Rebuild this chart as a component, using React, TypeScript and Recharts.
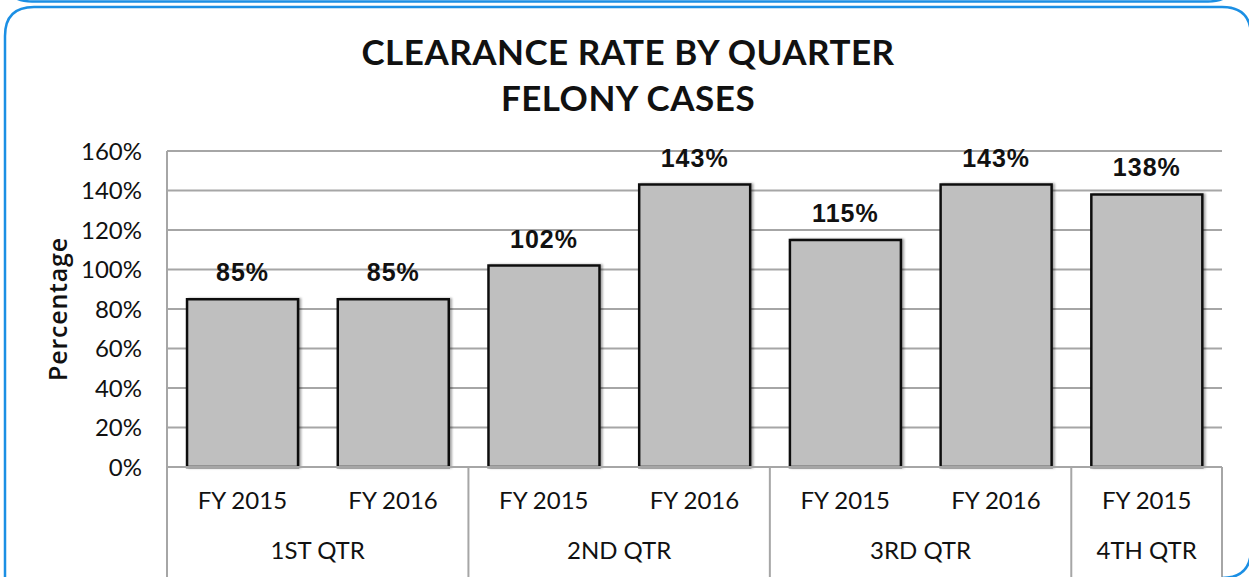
import React from 'react';
import {
  BarChart,
  Bar,
  XAxis,
  YAxis,
  CartesianGrid,
  LabelList,
} from 'recharts';

const quarters = ['1ST QTR', '1ST QTR', '2ND QTR', '2ND QTR', '3RD QTR', '3RD QTR', '4TH QTR'];
const fiscalYears = ['FY 2015', 'FY 2016', 'FY 2015', 'FY 2016', 'FY 2015', 'FY 2016', 'FY 2015'];
const clearanceRates = [85, 85, 102, 143, 115, 143, 138];
const yTicks = [0, 20, 40, 60, 80, 100, 120, 140, 160];

const W = 1249;
const H = 577;
const MARGIN = { top: 151, right: 27, bottom: 0, left: 0 };
const Y_AXIS_W = 167;
const X_AXIS_H = 110;
const PLOT_W = W - MARGIN.left - MARGIN.right - Y_AXIS_W;

const rows = quarters.map((q, i) => ({
  key: `${q}|${fiscalYears[i]}`,
  quarter: q,
  fy: fiscalYears[i],
  rate: clearanceRates[i],
}));

const GRID = '#a6a6a6';
const BLUE = '#1b8fe4';
const TICK_FONT = 'Lato, "Open Sans", sans-serif';

// two-level category axis: fiscal year on top, quarter group below with separators
function GroupedTick(props: any) {
  const { x, y, index } = props;
  const band = PLOT_W / rows.length;
  const q = quarters[index];
  const isFirst = index === 0 || quarters[index - 1] !== q;
  const isLast = index === quarters.length - 1;
  const count = quarters.filter((v) => v === q).length;
  const groupCenter = x - band / 2 + (band * count) / 2;
  return (
    <g>
      <text
        x={x}
        y={y + 42}
        textAnchor="middle"
        fontSize={24}
        fontFamily={TICK_FONT}
        fill="#111"
      >
        {fiscalYears[index]}
      </text>
      {isFirst && (
        <>
          <text
            x={groupCenter}
            y={y + 92}
            textAnchor="middle"
            fontSize={24}
            fontFamily={TICK_FONT}
            fill="#111"
          >
            {q}
          </text>
          <line x1={x - band / 2} x2={x - band / 2} y1={y} y2={y + X_AXIS_H} stroke={GRID} strokeWidth={2} />
        </>
      )}
      {isLast && (
        <line x1={x + band / 2} x2={x + band / 2} y1={y} y2={y + X_AXIS_H} stroke={GRID} strokeWidth={2} />
      )}
    </g>
  );
}

function YLabel() {
  return (
    <text
      x={57}
      y={309}
      transform="rotate(-90 57 309)"
      textAnchor="middle"
      dominantBaseline="central"
      fontSize={25}
      fontWeight={600}
      letterSpacing={0.8}
      fontFamily='"Open Sans", sans-serif'
      fill="#111"
    >
      Percentage
    </text>
  );
}

export default function App() {
  return (
    <div style={{ position: 'fixed', left: 0, top: 0, width: W, height: H, background: '#fff', overflow: 'hidden' }}>
      <div
        style={{
          position: 'absolute',
          left: 0,
          width: 1256,
          top: 28,
          textAlign: 'center',
          fontFamily: 'Lato, "Open Sans", sans-serif',
          fontWeight: 700,
          fontSize: 35,
          lineHeight: '46px',
          color: '#111',
          letterSpacing: 0.5,
        }}
      >
        CLEARANCE RATE BY QUARTER
        <br />
        FELONY CASES
      </div>
      <div style={{ position: 'absolute', left: 0, top: 0 }}>
        <BarChart width={W} height={H} data={rows} margin={MARGIN} barCategoryGap="13.3%">
          <defs>
            <filter id="barShadow" x="-10%" y="-10%" width="130%" height="130%">
              <feDropShadow dx="2" dy="0" stdDeviation="1.2" floodColor="#000" floodOpacity="0.35" />
            </filter>
          </defs>
          <CartesianGrid horizontal vertical={false} stroke={GRID} strokeWidth={2} />
          <XAxis
            dataKey="key"
            height={X_AXIS_H}
            tickSize={0}
            tickMargin={0}
            tickLine={false}
            axisLine={{ stroke: GRID, strokeWidth: 2 }}
            interval={0}
            tick={<GroupedTick />}
          />
          <YAxis
            width={Y_AXIS_W}
            domain={[0, 160]}
            ticks={yTicks}
            interval={0}
            tickSize={0}
            tickMargin={25}
            tickLine={false}
            axisLine={{ stroke: GRID, strokeWidth: 2 }}
            tickFormatter={(v: number) => `${v}%`}
            tick={{ fontSize: 24, fontFamily: TICK_FONT, fill: '#111' }}
            label={<YLabel />}
          />
          <Bar
            dataKey="rate"
            fill="#bfbfbf"
            stroke="#111"
            strokeWidth={2.5}
            style={{ filter: 'url(#barShadow)' }}
            isAnimationActive={false}
          >
            <LabelList
              dataKey="rate"
              position="top"
              offset={18}
              formatter={(v: number) => `${v}%`}
              style={{ fontSize: 25, fontWeight: 700, fontFamily: '"Liberation Sans", Arial, sans-serif', fill: '#111', letterSpacing: 1 }}
            />
          </Bar>
        </BarChart>
      </div>
      <svg width={W} height={H} style={{ position: 'absolute', left: 0, top: 0, pointerEvents: 'none' }}>
        <path
          d="M 4 -60 L 4 -27 Q 4 1.5 32 1.5 L 1208 1.5 Q 1236 1.5 1236 -27"
          fill="none"
          stroke={BLUE}
          strokeWidth={2.5}
        />
        <path
          d="M 5 600 L 5 36 Q 5 7 34 7 L 1222 7 Q 1251 7 1251 36 L 1251 549 Q 1251 578 1222 578"
          fill="none"
          stroke={BLUE}
          strokeWidth={2.5}
        />
      </svg>
    </div>
  );
}
